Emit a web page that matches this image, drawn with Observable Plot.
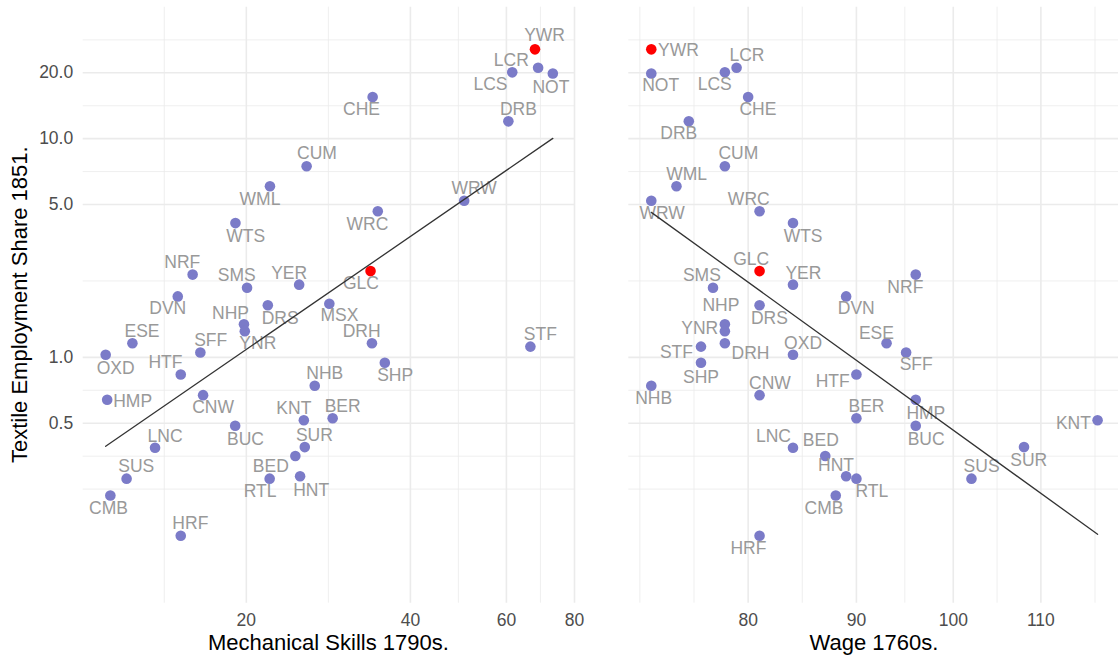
<!DOCTYPE html>
<html><head><meta charset="utf-8">
<script src="https://cdn.jsdelivr.net/npm/d3@7"></script>
<script src="https://cdn.jsdelivr.net/npm/@observablehq/plot@0.6"></script>
<style>
html,body{margin:0;padding:0;background:#fff;overflow:hidden;}
#wrap{position:relative;width:1118px;height:657px;overflow:hidden;font-family:"Liberation Sans",Arial,sans-serif;}
#wrap svg{position:absolute;top:0;}
</style></head><body><div id="wrap"></div>
<script>
// ---- data ----
const codes = ["YWR","LCR","LCS","NOT","DRB","CHE","CUM","WML","WRW","WRC","WTS","NRF","SMS","YER","GLC","DVN","DRS","MSX","NHP","YNR","ESE","DRH","STF","SFF","OXD","SHP","HTF","NHB","HMP","CNW","KNT","BER","BUC","LNC","SUR","BED","RTL","HNT","SUS","CMB","HRF"];
const mechSkills = [67.7,68.6,61.5,73.0,60.5,34.1,25.8,22.1,50.2,34.85,19.1,15.94,20.06,25.0,33.8,14.97,21.9,28.4,19.8,19.87,12.36,34.0,66.4,16.47,11.04,35.9,15.16,26.7,11.11,16.66,25.5,28.8,19.08,13.6,25.6,24.6,22.07,25.1,12.06,11.26,15.16];
const wage = [72,79,78,72,75,80,78,74,72,81,84,96,77,84,81,89,81,null,78,78,93,78,76,95,84,76,90,72,96,81,117,90,96,84,108,87,90,89,102,88,81];
const textileShare = [25.6,21.1,20.1,19.85,12.0,15.5,7.48,6.06,5.20,4.66,4.11,2.39,2.08,2.15,2.48,1.90,1.73,1.76,1.418,1.318,1.16,1.16,1.12,1.053,1.028,0.945,0.835,0.742,0.640,0.672,0.516,0.527,0.487,0.386,0.389,0.354,0.279,0.286,0.279,0.2336,0.153];
const highlighted = ["YWR","GLC"];
const yTicks = [0.5,1,5,10,20];
const xTicksLeft = [20,40,60,80];
const xTicksRight = [80,90,100,110];

// ---- label placement (layout only: dx, dy, anchor) ----
const nudgeLeft = {
  YWR:[9.6,-14],LCR:[-26.8,-7.7],LCS:[-21.8,12.3],NOT:[-1.9,13.7],DRB:[10,-11.7],CHE:[-11.1,12.3],
  CUM:[10.3,-12.7],WML:[-10,13.3],WRW:[10,-12],WRC:[-10.3,13.3],WTS:[10.3,13.3],NRF:[-10.3,-12],
  SMS:[-10.3,-12.3],YER:[-10,-11.7],GLC:[-9.6,12.3],DVN:[-10,12.3],DRS:[12.3,13],MSX:[10,12],
  NHP:[-13.4,-11.3],YNR:[13,12],ESE:[9.6,-11.7],DRH:[-10.3,-11.7],STF:[10,-12.7],SFF:[10.3,-12],
  OXD:[10,14],SHP:[10.3,12.7],HTF:[-15.3,-12],NHB:[10,-12.3],HMP:[6,1.3,"start"],CNW:[10,12.7],
  KNT:[-10,-11.7],BER:[10,-11.7],BUC:[10.3,13.3],LNC:[10,-11.3],SUR:[9.6,-11.7],BED:[-24.5,10],
  RTL:[-9.6,12.7],HNT:[11.1,14.3],SUS:[9.6,-12.7],CMB:[-1.9,13],HRF:[9.6,-12.3]
};
const nudgeRight = {
  YWR:[6.7,1,"start"],LCR:[10.4,-12],NOT:[9.4,12.3],LCS:[-10.1,12.3],CHE:[9.8,12.3],DRB:[-10.1,12.3],
  CUM:[13.5,-12.7],WML:[10.1,-12.3],WRW:[10.8,12.3],WRC:[-10.8,-12],WTS:[10.1,13],GLC:[-8.4,-12],
  SMS:[-11.1,-12.3],YER:[10.4,-11.7],NRF:[-10.4,12.7],DVN:[10.1,12.3],NHP:[-4,-19.3],YNR:[-6.7,-2.3,"end"],
  DRS:[9.8,12.7],ESE:[-10.1,-10.3],DRH:[6.7,10,"start"],STF:[-8,5.7,"end"],OXD:[10.1,-11.7],SFF:[10.1,12.3],
  SHP:[0,14.7],HTF:[-6.7,6.7,"end"],NHB:[2.4,12.7],CNW:[10.4,-12],BER:[10.1,-11.7],HMP:[10.1,13.7],
  BUC:[10.4,13.3],KNT:[-6.7,2.7,"end"],LNC:[-19.5,-11.3],BED:[-4.4,-16],HNT:[-10.1,-11.3],RTL:[15.5,12.3],
  SUS:[10.1,-12.7],SUR:[4.7,13.3],CMB:[-11.8,13],HRF:[-11.1,12.7]
};

const rows = codes.map((c,i)=>({code:c, mech:mechSkills[i], wage:wage[i], share:textileShare[i], hi:highlighted.includes(c)}));

const FONT = '"Liberation Sans", Arial, sans-serif';
const GRID = "#ebebeb";
const DOT = "#7b7bc8";
const LABEL = "#999999";
const yDomain = [0.0752, 39.9];

function minorBreaks(major, domain){
  const b = major.map(Math.log);
  const bd = b[1]-b[0];
  const lo = Math.log(domain[0]), hi = Math.log(domain[1]);
  if (lo < b[0]) b.unshift(b[0]-bd);
  if (hi > b[b.length-1]) b.push(b[b.length-1]+bd);
  const out = [];
  for (let i=0;i<b.length-1;i++){ out.push((b[i]+b[i+1])/2); }
  out.push(b[0], b[b.length-1]);
  return out.map(Math.exp).filter(v => v > domain[0]*1.0001 && v < domain[1]*0.9999 && !major.some(m=>Math.abs(m-v)<1e-9));
}

function fitLogLog(data, xk){
  const d = data.filter(r => r[xk] != null);
  const lx = d.map(r=>Math.log(r[xk])), ly = d.map(r=>Math.log(r.share));
  const mx = d3.mean(lx), my = d3.mean(ly);
  let sxy=0, sxx=0;
  lx.forEach((v,i)=>{ sxy += (v-mx)*(ly[i]-my); sxx += (v-mx)*(v-mx); });
  const b = sxy/sxx, a = my - b*mx;
  const [x0,x1] = d3.extent(d, r=>r[xk]);
  return [x0,x1].map(x => ({x, y: Math.exp(a + b*Math.log(x))}));
}

function panel(opts){
  const {xk, xDomain, xTicks, nudge, width, mL, mR, showY} = opts;
  const data = rows.filter(r => r[xk] != null);
  const marks = [
    Plot.ruleY(minorBreaks(yTicks, yDomain), {stroke:GRID, strokeWidth:0.8}),
    Plot.ruleX(minorBreaks(xTicks, xDomain), {stroke:GRID, strokeWidth:0.8}),
    Plot.ruleY(yTicks, {stroke:GRID, strokeWidth:1.6}),
    Plot.ruleX(xTicks, {stroke:GRID, strokeWidth:1.6}),
    Plot.axisX({ticks:xTicks, tickFormat:d=>String(d), tickSize:0, tickPadding:10.5, fontSize:17.5, fill:"#4d4d4d", label:null}),
    Plot.dot(data.filter(r=>!r.hi), {x:xk, y:"share", r:5.3, fill:DOT, stroke:null}),
    Plot.dot(data.filter(r=>r.hi), {x:xk, y:"share", r:5.3, fill:"#ff0000", stroke:null}),
  ];
  if (showY) marks.push(Plot.text(yTicks, {y:d=>d, text:d=>d3.format(".1f")(d), frameAnchor:"left", textAnchor:"end", dx:-10, fontSize:17.5, fill:"#4d4d4d"}));
  for (const r of data){
    const n = nudge[r.code] || [0,0];
    marks.push(Plot.text([r], {x:xk, y:"share", text:"code", dx:n[0], dy:n[1], textAnchor:n[2]||"middle", fontSize:17.5, fill:LABEL}));
  }
  marks.push(Plot.line(fitLogLog(rows, xk), {x:"x", y:"y", stroke:"#333333", strokeWidth:1.3}));
  return Plot.plot({
    width, height:657, marginLeft:mL, marginRight:mR, marginTop:6.7, marginBottom:54.3,
    style:{fontFamily:FONT, background:"transparent", overflow:"visible"},
    x:{type:"log", domain:xDomain},
    y:{type:"log", domain:yDomain, axis:null},
    marks
  });
}

const wrap = document.getElementById("wrap");
const left = panel({xk:"mech", xDomain:[10.04,80.0], xTicks:xTicksLeft, nudge:nudgeLeft, width:580, mL:82.7, mR:6, showY:true});
left.style.left = "0px";
wrap.appendChild(left);
const right = panel({xk:"wage", xDomain:[70.26,119.9], xTicks:xTicksRight, nudge:nudgeRight, width:500, mL:8.3, mR:0.4, showY:false});
right.style.left = "620px";
wrap.appendChild(right);

// axis titles
const ns = "http://www.w3.org/2000/svg";
const ov = document.createElementNS(ns, "svg");
ov.setAttribute("width", 1118); ov.setAttribute("height", 657);
ov.style.left = "0px"; ov.style.pointerEvents = "none";
function addText(str, attrs){
  const t = document.createElementNS(ns, "text");
  for (const k in attrs) t.setAttribute(k, attrs[k]);
  t.setAttribute("font-family", FONT); t.setAttribute("font-size", 22); t.setAttribute("fill", "#000");
  t.setAttribute("text-anchor", "middle");
  t.textContent = str; ov.appendChild(t);
}
addText("Mechanical Skills 1790s.", {x:328.4, y:650});
addText("Wage 1760s.", {x:874, y:650});
addText("Textile Employment Share 1851.", {transform:"translate(26.7,304.7) rotate(-90)"});
wrap.appendChild(ov);
</script></body></html>
